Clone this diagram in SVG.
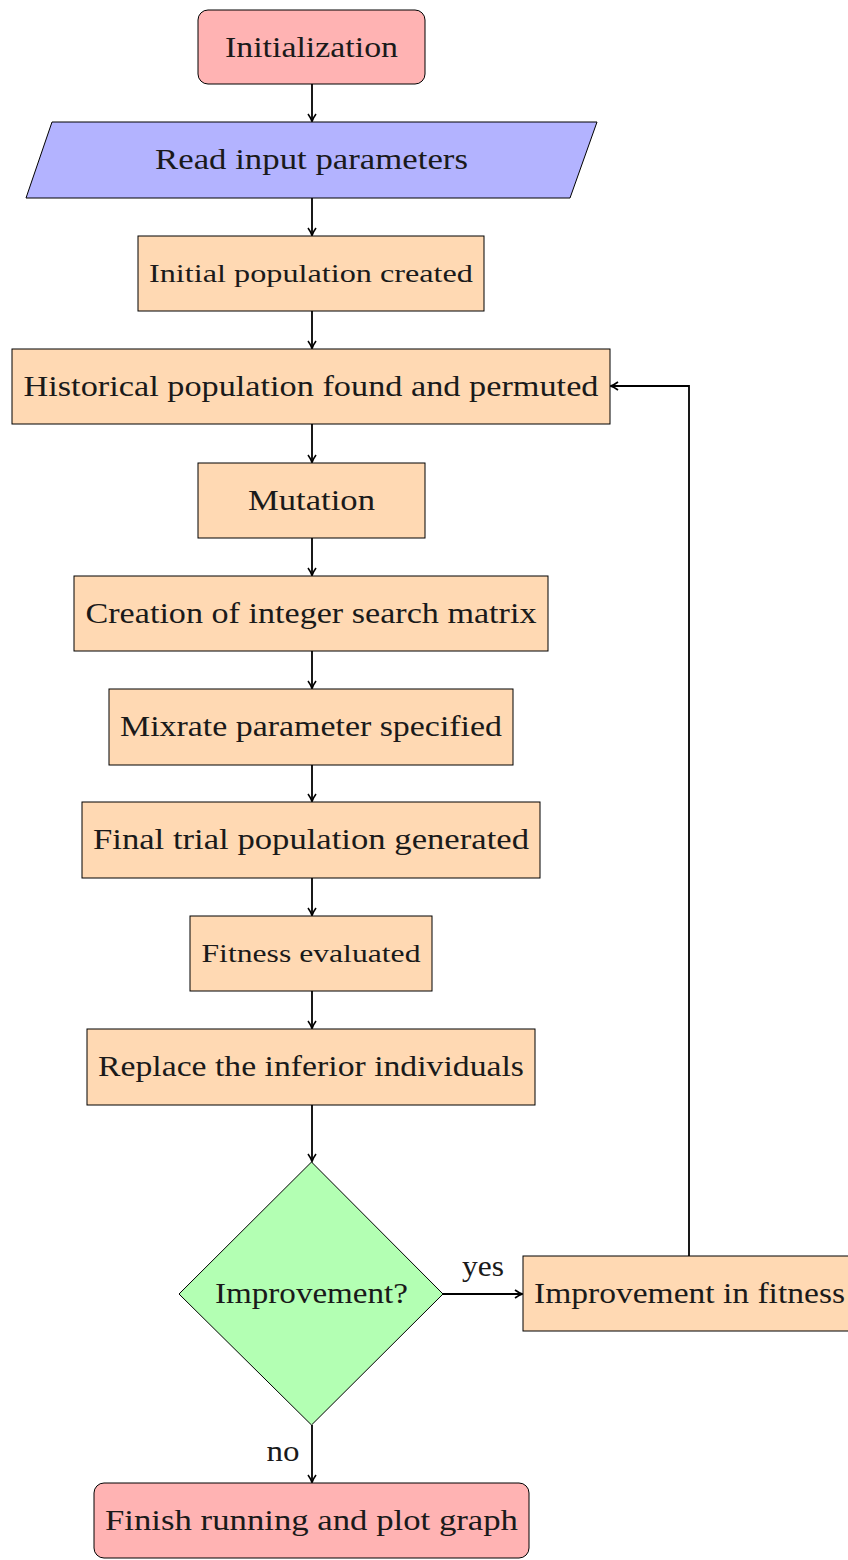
<svg xmlns="http://www.w3.org/2000/svg" width="848" height="1560" viewBox="0 0 848 1560">
  <style>
    .node { stroke: #000; stroke-width: 1; }
    .start { fill: #ffb3b3; }
    .io { fill: #b3b3ff; }
    .proc { fill: #ffd9b3; }
    .dec { fill: #b3ffb3; }
    text { font-family: "Liberation Serif", "DejaVu Serif", serif; fill: #1a1a1a; text-anchor: middle; }
    .big { font-size: 29px; }
    .small { font-size: 26px; }
    .edge { fill: none; stroke: #000; stroke-width: 1.8; marker-end: url(#tip); }
  </style>
  <defs>
    <marker id="tip" markerWidth="10" markerHeight="10" refX="8" refY="5" orient="auto" markerUnits="userSpaceOnUse">
      <path d="M1,1 Q5,4 8.5,5 Q5,6 1,9" fill="none" stroke="#000" stroke-width="1.6"/>
    </marker>
  </defs>

  <g id="connectors">
    <path class="edge" d="M312,84 V121"/>
    <path class="edge" d="M312,198 V235"/>
    <path class="edge" d="M312,311 V348"/>
    <path class="edge" d="M312,424 V462"/>
    <path class="edge" d="M312,538 V575"/>
    <path class="edge" d="M312,651 V688"/>
    <path class="edge" d="M312,765 V801"/>
    <path class="edge" d="M312,878 V915"/>
    <path class="edge" d="M312,991 V1028"/>
    <path class="edge" d="M312,1105 V1161"/>
    <path class="edge" d="M443,1294 H522"/>
    <path class="edge" d="M689,1256 V386 H611"/>
    <path class="edge" d="M312,1425 V1482"/>
    <text class="big" x="483" y="1276" textLength="42" lengthAdjust="spacingAndGlyphs">yes</text>
    <text class="big" x="283" y="1461" textLength="33" lengthAdjust="spacingAndGlyphs">no</text>
  </g>

  <g id="init">
    <rect class="node start" x="198" y="10" width="227" height="74" rx="10"/>
    <text class="big" x="311.5" y="57" textLength="173" lengthAdjust="spacingAndGlyphs">Initialization</text>
  </g>
  <g id="read-input">
    <polygon class="node io" points="52,122 597,122 570,198 26,198"/>
    <text class="big" x="311.5" y="169" textLength="313" lengthAdjust="spacingAndGlyphs">Read input parameters</text>
  </g>
  <g id="initial-pop">
    <rect class="node proc" x="138" y="236" width="346" height="75"/>
    <text class="small" x="311" y="282" textLength="324" lengthAdjust="spacingAndGlyphs">Initial population created</text>
  </g>
  <g id="historical">
    <rect class="node proc" x="12" y="349" width="598" height="75"/>
    <text class="big" x="311" y="396" textLength="575" lengthAdjust="spacingAndGlyphs">Historical population found and permuted</text>
  </g>
  <g id="mutation">
    <rect class="node proc" x="198" y="463" width="227" height="75"/>
    <text class="big" x="311.5" y="510" textLength="127" lengthAdjust="spacingAndGlyphs">Mutation</text>
  </g>
  <g id="search-matrix">
    <rect class="node proc" x="74" y="576" width="474" height="75"/>
    <text class="big" x="311" y="623" textLength="451" lengthAdjust="spacingAndGlyphs">Creation of integer search matrix</text>
  </g>
  <g id="mixrate">
    <rect class="node proc" x="109" y="689" width="404" height="76"/>
    <text class="big" x="311" y="736" textLength="382" lengthAdjust="spacingAndGlyphs">Mixrate parameter specified</text>
  </g>
  <g id="trial-pop">
    <rect class="node proc" x="82" y="802" width="458" height="76"/>
    <text class="big" x="311" y="849" textLength="436" lengthAdjust="spacingAndGlyphs">Final trial population generated</text>
  </g>
  <g id="fitness">
    <rect class="node proc" x="190" y="916" width="242" height="75"/>
    <text class="small" x="311" y="962" textLength="219" lengthAdjust="spacingAndGlyphs">Fitness evaluated</text>
  </g>
  <g id="replace">
    <rect class="node proc" x="87" y="1029" width="448" height="76"/>
    <text class="big" x="311" y="1076" textLength="426" lengthAdjust="spacingAndGlyphs">Replace the inferior individuals</text>
  </g>
  <g id="decision">
    <polygon class="node dec" points="311.5,1162 443,1294 311.5,1425 179,1294"/>
    <text class="big" x="311.5" y="1303" textLength="193" lengthAdjust="spacingAndGlyphs">Improvement?</text>
  </g>
  <g id="improve">
    <rect class="node proc" x="523" y="1256" width="332" height="75"/>
    <text class="big" x="689.5" y="1303" textLength="311" lengthAdjust="spacingAndGlyphs">Improvement in fitness</text>
  </g>
  <g id="finish">
    <rect class="node start" x="94" y="1483" width="435" height="75" rx="10"/>
    <text class="big" x="311.5" y="1530" textLength="413" lengthAdjust="spacingAndGlyphs">Finish running and plot graph</text>
  </g>
</svg>
